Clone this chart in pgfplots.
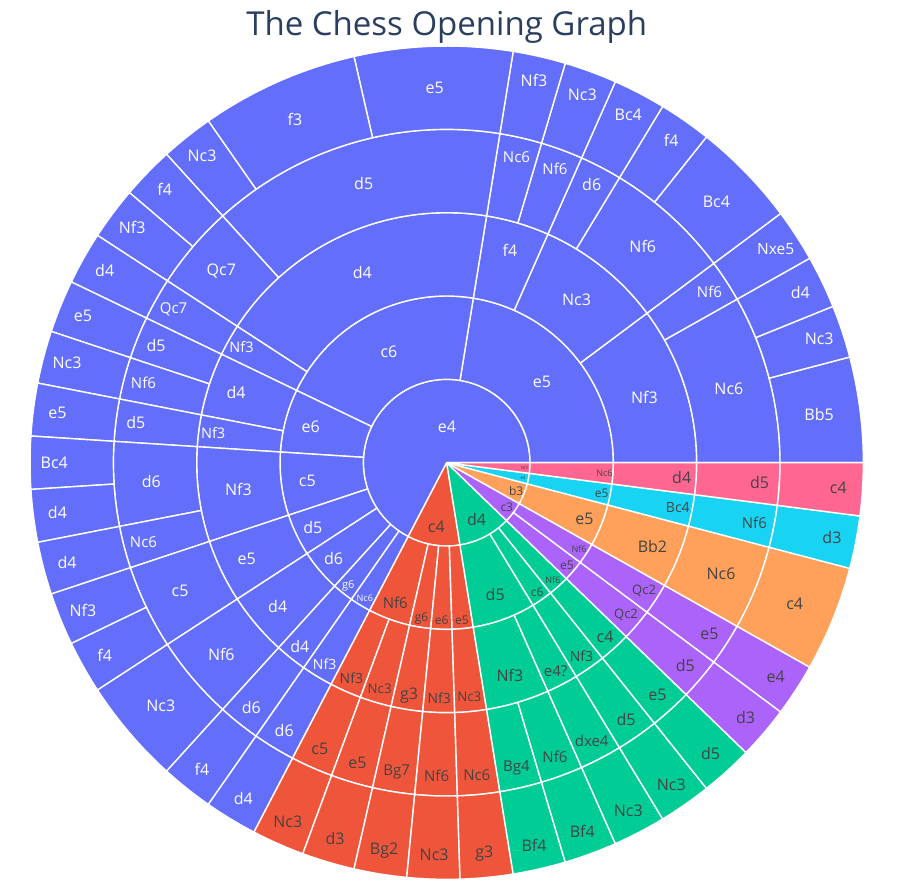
\documentclass[border=0pt]{standalone}
\usepackage{pgfplots}
\pgfplotsset{compat=1.18}
\usepackage{pgfplotstable}
\usepackage{fontspec}
\setmainfont{Open Sans}
\definecolor{cB}{HTML}{636EFA}
\definecolor{cR}{HTML}{EF553B}
\definecolor{cG}{HTML}{00CC96}
\definecolor{cP}{HTML}{AB63FA}
\definecolor{cO}{HTML}{FFA15A}
\definecolor{cC}{HTML}{19D3F3}
\definecolor{cK}{HTML}{FF6692}
\definecolor{cT}{HTML}{444444}
\definecolor{cTitle}{HTML}{2A3F5F}
% s,e = start/end in counts (49 games in all), L = ring, lr = label radius (px), la = label angle (-1: middle)
\pgfplotstableread{
s e L col tc lab fs lr la
0 33 1 cB white e4 16 36 89.5
33 38 1 cR cT c4 16 65 -1
38 43 1 cG cT d4 16 64.5 -1
43 45 1 cP cT c3 12 75 -1
45 47 1 cO cT b3 12 75 -1
47 48 1 cC cT e4 4.5 78 -1
48 49 1 cK cT Nf3 4.5 78 -1
0 11 2 cB white e5 16 125 -1
11 21 2 cB white c6 16 125 -1
21 24 2 cB white e6 16 140.5 -1
24 27 2 cB white c5 16 140.5 -1
27 29 2 cB white d5 16 148.5 -1
29 31 2 cB white d6 16 148.5 -1
31 32 2 cB white g6 11 158 -1
32 33 2 cB white Nc6 9 158 -1
33 35 2 cR cT Nf6 15 149 -1
35 36 2 cR cT g6 12 158 -1
36 37 2 cR cT e6 12 158 -1
37 38 2 cR cT e5 12 158 -1
38 41 2 cG cT d5 16 140.5 -1
41 42 2 cG cT c6 12 158 -1
42 43 2 cG cT Nf6 9 158 -1
43 44 2 cP cT e5 12 158 -1
44 45 2 cP cT Nf6 9 158 -1
45 47 2 cO cT e5 16 148.5 -1
47 48 2 cC cT e5 12 158 -1
48 49 2 cK cT Nc6 9 158 -1
0 5 3 cB white Nf3 16 208.3 -1
5 9 3 cB white Nc3 16 208.3 -1
9 11 3 cB white f4 16 222 -1
11 20 3 cB white d4 16 208.3 -1
20 21 3 cB white Nf3 14.5 235.5 -1
21 23 3 cB white d4 16 222 -1
23 24 3 cB white Nf3 14.5 235.5 -1
24 27 3 cB white Nf3 16 210 -1
27 29 3 cB white e5 16 222 -1
29 31 3 cB white d4 16 222 -1
31 32 3 cB white d4 16 235.5 -1
32 33 3 cB white Nf3 14 235.5 -1
33 34 3 cR cT Nf3 14 235.5 -1
34 35 3 cR cT Nc3 13.3 235.5 -1
35 36 3 cR cT g3 16 235.5 -1
36 37 3 cR cT Nf3 14 235.5 -1
37 38 3 cR cT Nc3 13.3 235.5 -1
38 40 3 cG cT Nf3 16 222 -1
40 41 3 cG cT e4? 15 235.5 -1
41 42 3 cG cT Nf3 14 235.5 -1
42 43 3 cG cT c4 16 235.5 -1
43 44 3 cP cT Qc2 13 235.5 -1
44 45 3 cP cT Qc2 13 235.5 -1
45 47 3 cO cT Bb2 16 222 -1
47 48 3 cC cT Bc4 14 235.5 -1
48 49 3 cK cT d4 16 235.5 -1
0 4 4 cB white Nc6 16 291.7 -1
4 5 4 cB white Nf6 15 313.5 -1
5 8 4 cB white Nf6 16 291.7 -1
8 9 4 cB white d6 16 313.5 -1
9 10 4 cB white Nf6 15 313.5 -1
10 11 4 cB white Nc6 15 313.5 -1
11 18 4 cB white d5 16 291.7 -1
18 20 4 cB white Qc7 16 296 -1
20 21 4 cB white Qc7 15 313.5 -1
21 22 4 cB white d5 16 313.5 -1
22 23 4 cB white Nf6 15 313.5 -1
23 24 4 cB white d5 16 313.5 -1
24 26 4 cB white d6 16 296 -1
26 27 4 cB white Nc6 15 313.5 -1
27 29 4 cB white c5 16 296 -1
29 31 4 cB white Nf6 16 296 -1
31 32 4 cB white d6 16 313.5 -1
32 33 4 cB white d6 16 313.5 -1
33 34 4 cR cT c5 16 313.5 -1
34 35 4 cR cT e5 16 313.5 -1
35 36 4 cR cT Bg7 15 313.5 -1
36 37 4 cR cT Nf6 15 313.5 -1
37 38 4 cR cT Nc6 15 313.5 -1
38 39 4 cG cT Bg4 15 313.5 -1
39 40 4 cG cT Nf6 15 313.5 -1
40 41 4 cG cT dxe4 15 313.5 -1
41 42 4 cG cT d5 16 313.5 -1
42 43 4 cG cT e5 16 313.5 -1
43 44 4 cP cT d5 16 313.5 -1
44 45 4 cP cT e5 16 313.5 -1
45 47 4 cO cT Nc6 16 296 -1
47 48 4 cC cT Nf6 15 313.5 -1
48 49 4 cK cT d5 16 313.5 -1
0 2 5 cB white Bb5 16 375.5 -1
2 3 5 cB white Nc3 16 392.5 -1
3 4 5 cB white d4 16 392.5 -1
4 5 5 cB white Nxe5 15.5 392.5 -1
5 7 5 cB white Bc4 16 375.5 -1
7 8 5 cB white f4 16 392.5 -1
8 9 5 cB white Bc4 16 392.5 -1
9 10 5 cB white Nc3 16 392.5 -1
10 11 5 cB white Nf3 16 392.5 -1
11 14 5 cB white e5 16 375 -1
14 17 5 cB white f3 16 375 -1
17 18 5 cB white Nc3 16 392.5 -1
18 19 5 cB white f4 16 392.5 -1
19 20 5 cB white Nf3 16 392.5 -1
20 21 5 cB white d4 16 392.5 -1
21 22 5 cB white e5 16 392.5 -1
22 23 5 cB white Nc3 16 392.5 -1
23 24 5 cB white e5 16 392.5 -1
24 25 5 cB white Bc4 16 392.5 -1
25 26 5 cB white d4 16 392.5 -1
26 27 5 cB white d4 16 392.5 -1
27 28 5 cB white Nf3 16 392.5 -1
28 29 5 cB white f4 16 392.5 -1
29 31 5 cB white Nc3 16 375.5 -1
31 32 5 cB white f4 16 392.5 -1
32 33 5 cB white d4 16 392.5 -1
33 34 5 cR cT Nc3 16 392.5 -1
34 35 5 cR cT d3 16 392.5 -1
35 36 5 cR cT Bg2 16 392.5 -1
36 37 5 cR cT Nc3 16 392.5 -1
37 38 5 cR cT g3 16 392.5 -1
38 39 5 cG cT Bf4 16 392.5 -1
39 40 5 cG cT Bf4 16 392.5 -1
40 41 5 cG cT Nc3 16 392.5 -1
41 42 5 cG cT Nc3 16 392.5 -1
42 43 5 cG cT d5 16 392.5 -1
43 44 5 cP cT d3 16 392.5 -1
44 45 5 cP cT e4 16 392.5 -1
45 47 5 cO cT c4 16 375.5 -1
47 48 5 cC cT d3 16 392.5 -1
48 49 5 cK cT c4 16 392.5 -1
}\sunburst
\pgfplotstablegetrowsof{\sunburst}
\pgfmathtruncatemacro{\N}{\pgfplotsretval-1}
\def\U{7.346939}
\def\RR{83.33333}
\begin{document}
\begin{tikzpicture}
\begin{axis}[x=1pt, y=1pt, xmin=-446.7, xmax=467.3, ymin=-424.3, ymax=462.7,
  hide axis, clip=false]
\path (axis cs:-446.7,-424.3) rectangle (axis cs:467.3,462.7);
\pgfplotsforeachungrouped \i in {0,...,\N}{%
  \pgfplotstablegetelem{\i}{s}\of\sunburst \let\vs\pgfplotsretval
  \pgfplotstablegetelem{\i}{e}\of\sunburst \let\ve\pgfplotsretval
  \pgfplotstablegetelem{\i}{L}\of\sunburst \let\vL\pgfplotsretval
  \pgfplotstablegetelem{\i}{col}\of\sunburst \let\vcol\pgfplotsretval
  \pgfplotstablegetelem{\i}{tc}\of\sunburst \let\vtc\pgfplotsretval
  \pgfplotstablegetelem{\i}{lab}\of\sunburst \let\vlab\pgfplotsretval
  \pgfplotstablegetelem{\i}{fs}\of\sunburst \let\vfs\pgfplotsretval
  \pgfplotstablegetelem{\i}{lr}\of\sunburst \let\vlr\pgfplotsretval
  \pgfplotstablegetelem{\i}{la}\of\sunburst \let\vla\pgfplotsretval
  \pgfmathsetmacro\aA{\vs*\U}
  \pgfmathsetmacro\aB{\ve*\U}
  \pgfmathsetmacro\rA{max((\vL-1)*\RR,0.01)}
  \pgfmathsetmacro\rB{\vL*\RR}
  \pgfmathsetmacro\aM{\vla<0 ? (\aA+\aB)/2 : \vla}
  \edef\temp{\noexpand\filldraw[fill=\vcol, draw=white, line width=1.4pt, line join=round]
    ([shift={(\aA:\rA pt)}]axis cs:0,0) arc[start angle=\aA, end angle=\aB, radius=\rA pt]
    -- ([shift={(\aB:\rB pt)}]axis cs:0,0) arc[start angle=\aB, end angle=\aA, radius=\rB pt] -- cycle;
    \noexpand\node[text=\vtc, inner sep=0pt, font=\noexpand\fontsize{\vfs pt}{\vfs pt}\noexpand\selectfont]
      at ([shift={(\aM:\vlr pt)}]axis cs:0,0) {\vlab};}
  \temp
}
\node[anchor=base, text=cTitle, font=\fontsize{33pt}{33pt}\selectfont] at (axis cs:0,426.7) {The Chess Opening Graph};
\end{axis}
\end{tikzpicture}
\end{document}
